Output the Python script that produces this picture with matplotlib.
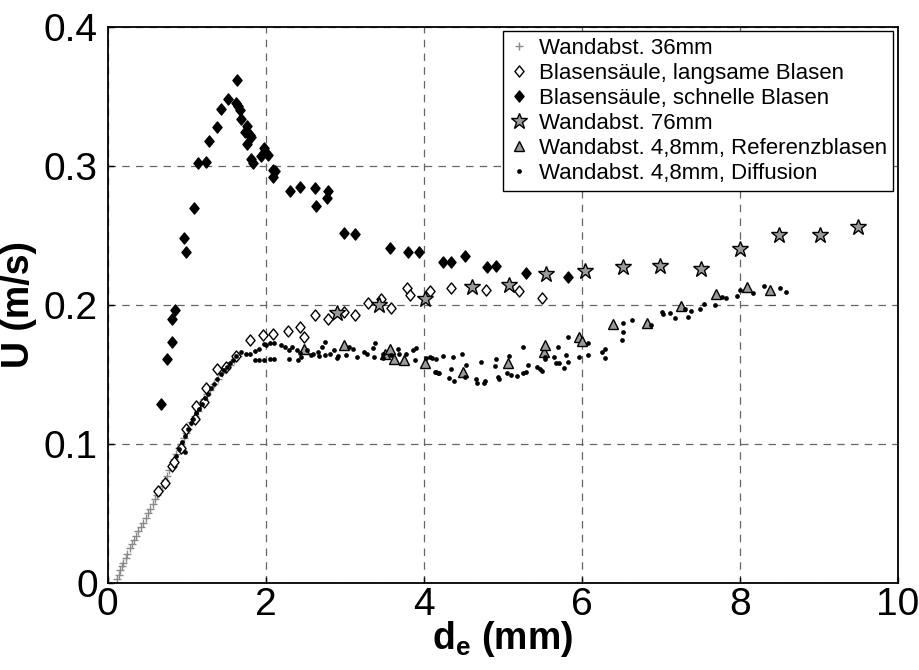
import matplotlib
matplotlib.use("Agg")
import matplotlib.pyplot as plt
from matplotlib.path import Path

plt.rcParams['font.family'] = ['Liberation Sans', 'DejaVu Sans']
plt.rcParams['mathtext.fontset'] = 'custom'
plt.rcParams['mathtext.rm'] = 'Liberation Sans'
plt.rcParams['mathtext.bf'] = 'Liberation Sans:bold'

# ---------------- data ----------------
labels = ["Wandabst. 36mm", "Blasensäule, langsame Blasen", "Blasensäule, schnelle Blasen",
          "Wandabst. 76mm", "Wandabst. 4,8mm, Referenzblasen", "Wandabst. 4,8mm, Diffusion"]

cross_x = [0.12, 0.14, 0.16, 0.18, 0.20, 0.23, 0.25, 0.28, 0.31, 0.33, 0.36, 0.39, 0.42, 0.45,
           0.48, 0.51, 0.54, 0.57, 0.60, 0.63, 0.66, 0.69, 0.72, 0.75, 0.78, 0.81, 0.84, 0.87,
           0.90, 0.93, 0.96, 0.99, 1.02, 1.06, 1.10, 1.14, 1.18, 1.22, 1.26, 1.30, 1.35, 1.40,
           1.45, 1.50, 1.55, 1.60, 1.65]
cross_y = [0.003, 0.006, 0.009, 0.012, 0.014, 0.018, 0.021, 0.025, 0.028, 0.031, 0.034, 0.037,
           0.040, 0.043, 0.047, 0.050, 0.053, 0.057, 0.060, 0.063, 0.067, 0.070, 0.074, 0.077,
           0.081, 0.085, 0.089, 0.093, 0.097, 0.100, 0.104, 0.108, 0.111, 0.116, 0.120, 0.124,
           0.128, 0.132, 0.136, 0.139, 0.143, 0.147, 0.151, 0.154, 0.157, 0.160, 0.163]

slow_x = [0.64, 0.72, 0.81, 0.84, 0.93, 0.99, 1.11, 1.12, 1.22, 1.25, 1.39, 1.50, 1.63, 1.80,
          1.97, 2.09, 2.28, 2.43, 2.48, 2.63, 2.79, 2.99, 3.13, 3.29, 3.46, 3.58, 3.79, 3.83,
          4.08, 4.34, 4.79, 5.21, 5.50]
slow_y = [0.066, 0.072, 0.084, 0.087, 0.097, 0.111, 0.118, 0.127, 0.130, 0.140, 0.154, 0.155,
          0.163, 0.175, 0.178, 0.179, 0.181, 0.184, 0.177, 0.193, 0.190, 0.195, 0.193, 0.201,
          0.204, 0.198, 0.212, 0.207, 0.210, 0.212, 0.211, 0.210, 0.205]

fast_x = [0.67, 0.75, 0.81, 0.81, 0.85, 0.96, 0.99, 1.09, 1.14, 1.25, 1.28, 1.38, 1.44, 1.52,
          1.64, 1.62, 1.65, 1.67, 1.69, 1.76, 1.74, 1.80, 1.82, 1.76, 1.81, 1.84, 1.94, 1.98,
          2.03, 2.09, 2.12, 2.09, 2.31, 2.43, 2.63, 2.64, 2.79, 2.78, 2.99, 3.13, 3.57, 3.80,
          3.94, 4.24, 4.34, 4.52, 4.80, 4.91, 5.29, 5.82]
fast_y = [0.129, 0.161, 0.173, 0.190, 0.196, 0.248, 0.238, 0.270, 0.302, 0.303, 0.318, 0.328,
          0.341, 0.348, 0.362, 0.345, 0.343, 0.340, 0.334, 0.329, 0.324, 0.322, 0.321, 0.316,
          0.305, 0.302, 0.307, 0.313, 0.308, 0.297, 0.296, 0.292, 0.282, 0.285, 0.284, 0.271,
          0.282, 0.277, 0.252, 0.251, 0.241, 0.238, 0.238, 0.231, 0.231, 0.235, 0.227, 0.228,
          0.223, 0.220]

w76_x = [2.90, 3.44, 4.02, 4.61, 5.08, 5.55, 6.04, 6.52, 6.99, 7.51, 8.00, 8.49, 9.01, 9.49]
w76_y = [0.194, 0.200, 0.204, 0.213, 0.214, 0.222, 0.224, 0.227, 0.228, 0.226, 0.240, 0.250,
         0.250, 0.256]

ref_x = [2.49, 2.99, 3.51, 3.57, 3.62, 3.75, 4.01, 4.50, 5.06, 5.52, 5.54, 5.97, 6.00, 6.39,
         6.83, 7.26, 7.70, 8.09, 8.38]
ref_y = [0.168, 0.171, 0.165, 0.168, 0.161, 0.160, 0.158, 0.152, 0.158, 0.166, 0.171, 0.177,
         0.174, 0.186, 0.187, 0.199, 0.208, 0.213, 0.211]

diff_x = [0.86, 0.90, 0.94, 0.975, 0.98, 1.02, 1.05, 1.08, 1.12, 1.15, 1.19, 1.23, 1.27, 1.31,
          1.35, 1.39, 1.43, 1.47, 1.51, 1.55, 1.59, 1.63, 1.69, 1.75, 1.80, 1.87, 1.92, 1.87,
          1.92, 2.00,
          1.975, 2.05, 2.10, 1.975, 2.05, 2.10, 2.19, 2.24, 2.30, 2.33, 2.30, 2.40, 2.43, 2.41,
          2.45, 2.52, 2.57, 2.60, 2.66, 2.71, 2.75, 2.68, 2.75, 2.81, 2.86, 2.90, 2.92, 3.02,
          3.06, 3.11, 3.15, 3.24, 3.28, 3.36, 3.38, 3.37, 3.48, 3.49, 3.59, 3.67, 3.69, 3.78,
          3.87, 3.90, 3.89, 4.03, 4.08, 4.14, 4.18,
          4.11, 4.15, 4.24, 4.37, 4.48, 4.16, 4.19, 4.35, 4.32, 4.38, 4.54, 4.52, 4.66, 4.67,
          4.77, 4.76, 4.72, 4.92, 4.90, 4.94, 4.95, 5.05, 5.08, 5.11, 5.18, 5.26, 5.30, 5.32,
          5.25, 5.43, 5.47, 5.50, 5.53, 5.54, 5.65, 5.67, 5.71, 5.77, 5.80, 5.83, 5.70, 5.83,
          5.97, 6.08, 6.08, 6.25, 6.29,
          6.29, 6.52, 6.52, 6.51, 6.63, 6.88, 7.02, 7.03, 7.11, 7.18, 7.30, 7.35, 7.38, 7.50,
          7.55, 7.68, 7.77, 7.82, 7.96, 8.00, 8.16, 8.30, 8.51, 8.58]
diff_y = [0.091, 0.096, 0.101, 0.0945, 0.106, 0.111, 0.115, 0.118, 0.122, 0.125, 0.129, 0.133,
          0.136, 0.140, 0.143, 0.147, 0.150, 0.153, 0.155, 0.158, 0.160, 0.163, 0.166, 0.165,
          0.1645, 0.167, 0.168, 0.160, 0.160, 0.171,
          0.172, 0.1724, 0.1724, 0.1604, 0.161, 0.161, 0.1712, 0.1695, 0.1676, 0.1695, 0.161,
          0.1676, 0.1657, 0.1604, 0.1628, 0.1676, 0.164, 0.165, 0.1664, 0.1695, 0.1736, 0.1633,
          0.164, 0.165, 0.1676, 0.1616, 0.1633, 0.164, 0.170, 0.168, 0.1628, 0.1664, 0.1647,
          0.1688, 0.1724, 0.1628, 0.1647, 0.1616, 0.164, 0.168, 0.165, 0.165, 0.1676, 0.1688,
          0.1604, 0.1616, 0.1624, 0.152, 0.151,
          0.1616, 0.161, 0.1633, 0.1624, 0.1647, 0.152, 0.151, 0.1537, 0.1473, 0.1453, 0.1568,
          0.148, 0.1465, 0.144, 0.1455, 0.1437, 0.1592, 0.161, 0.156, 0.1484, 0.1465, 0.151,
          0.1633, 0.1496, 0.149, 0.1513, 0.152, 0.1568, 0.170, 0.155, 0.1537, 0.1527, 0.161,
          0.1628, 0.1628, 0.1585, 0.158, 0.1545, 0.164, 0.1592, 0.170, 0.1772, 0.1628, 0.1729,
          0.164, 0.1664, 0.168,
          0.162, 0.1868, 0.1808, 0.1748, 0.1892, 0.1856, 0.1952, 0.1935, 0.194, 0.1904, 0.1969,
          0.1916, 0.1957, 0.1969, 0.2005, 0.1998, 0.206, 0.2048, 0.2067, 0.2108, 0.2084, 0.2132,
          0.2124, 0.2091]

xticks = [0, 2, 4, 6, 8, 10]
yticks = [0, 0.1, 0.2, 0.3, 0.4]
xtick_labels = ["0", "2", "4", "6", "8", "10"]
ytick_labels = ["0", "0.1", "0.2", "0.3", "0.4"]

# ---------------- plot ----------------
fig = plt.figure(figsize=(9.2, 6.7), dpi=100)
ax = fig.add_axes([0.117, 0.130, 0.859, 0.830])

diamond = Path([(0, 1), (0.82, 0), (0, -1), (-0.82, 0), (0, 1)],
               [Path.MOVETO, Path.LINETO, Path.LINETO, Path.LINETO, Path.CLOSEPOLY])

ax.plot(cross_x, cross_y, linestyle='none', marker='+', ms=6, mew=1.0, color='#8a8a8a',
        label=labels[0])
ax.plot(slow_x, slow_y, linestyle='none', marker=diamond, ms=8, mew=1.0, mfc='white',
        mec='black', label=labels[1])
ax.plot(fast_x, fast_y, linestyle='none', marker=diamond, ms=8, mew=1.0, mfc='black',
        mec='black', label=labels[2])
ax.plot(w76_x, w76_y, linestyle='none', marker='*', ms=12, mew=1.0, mfc='#9a9a9a',
        mec='black', label=labels[3])
ax.plot(ref_x, ref_y, linestyle='none', marker='^', ms=7.5, mew=1.0, mfc='#9a9a9a',
        mec='black', label=labels[4])
ax.plot(diff_x, diff_y, linestyle='none', marker='o', ms=3.4, mew=0, color='black',
        label=labels[5])

ax.set_xlim(0, 10)
ax.set_ylim(0, 0.4)
ax.set_xticks(xticks)
ax.set_xticklabels(xtick_labels)
ax.set_yticks(yticks)
ax.set_yticklabels(ytick_labels)
ax.tick_params(direction='in', length=4, width=1, labelsize=28)
ax.tick_params(axis='x', pad=3)
ax.tick_params(axis='y', pad=7)
ax.grid(True, linestyle=(0, (6, 5)), color='#666666', linewidth=0.9)
for s in ax.spines.values():
    s.set_linewidth(1.3)
    s.set_color('black')

ax.set_xlabel(r'$\mathbf{d_e}$ (mm)', fontsize=27, fontweight='bold', labelpad=-3)
ax.set_ylabel('U (m/s)', fontsize=27, fontweight='bold')
ax.yaxis.set_label_coords(-0.09, 0.5)

leg = ax.legend(loc='upper right', fontsize=16, frameon=True, fancybox=False,
                edgecolor='black', framealpha=1, borderaxespad=0.2, labelspacing=0.18,
                handlelength=0.8, handletextpad=0.5, borderpad=0.3, numpoints=1)
leg.get_frame().set_linewidth(1.0)

fig.savefig('out.png', dpi=100)
